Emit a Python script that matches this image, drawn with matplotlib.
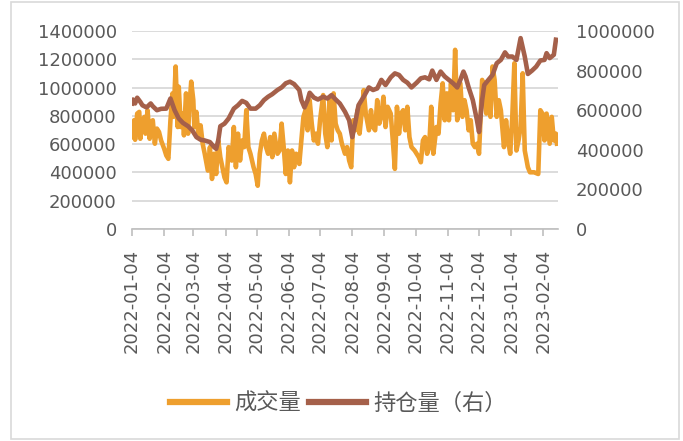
import matplotlib
matplotlib.use("Agg")
import matplotlib.pyplot as plt
import matplotlib.dates as mdates
from matplotlib.patches import Rectangle
import pandas as pd

start_date = "2022-01-04"
end_date = "2023-02-18"

# volume (成交量), days after start_date and values
vol_days = [0, 2, 3, 5, 7, 8, 10, 12, 13, 15, 17, 18, 20, 22, 24, 26, 28, 31, 33, 35,
            37, 39, 40, 42, 44, 45, 47, 49, 50, 52, 54, 55, 57, 59, 60, 62, 64, 66, 68, 70,
            73, 75, 77, 79, 81, 83, 85, 87, 89, 91, 93, 96, 98, 100, 102, 104, 106, 108, 110, 112,
            114, 117, 119, 121, 123, 125, 127, 129, 131, 133, 135, 137, 140, 142, 144, 146, 148, 150, 152, 154,
            156, 158, 161, 163, 165, 167, 169, 171, 173, 175, 177, 179, 181, 184, 186, 188, 190, 192, 194, 196,
            198, 200, 202, 205, 207, 209, 211, 213, 215, 217, 219, 221, 223, 225, 228, 230, 232, 234, 236, 238,
            240, 242, 244, 246, 249, 251, 253, 255, 257, 259, 261, 263, 265, 267, 269, 272, 274, 276, 278, 280,
            282, 284, 286, 288, 290, 293, 295, 297, 299, 301, 303, 305, 307, 309, 311, 313, 316, 318, 320, 322,
            324, 326, 328, 330, 332, 334, 337, 339, 341, 343, 345, 347, 349, 351, 353, 355, 358, 360, 362, 364,
            366, 368, 370, 372, 374, 376, 378, 381, 383, 387, 391, 393, 395, 397, 399, 402, 404, 406, 408, 409]
vol_vals = [650, 769, 631, 816, 828, 638, 769, 793, 674, 840, 638, 745, 769, 603, 710, 686, 626, 567, 520, 496,
            769, 959, 793, 1149, 721, 1006, 721, 816, 662, 959, 674, 840, 1042, 911, 721, 828, 650, 733, 603, 532,
            413, 579, 354, 532, 389, 626, 508, 437, 365, 330, 579, 484, 721, 437, 674, 484, 626, 579, 840, 579,
            532, 437, 389, 306, 532, 626, 674, 579, 532, 650, 508, 674, 532, 555, 745, 579, 389, 555, 330, 555,
            437, 532, 460, 626, 793, 840, 698, 911, 745, 626, 674, 603, 769, 947, 674, 579, 911, 626, 959, 745,
            698, 674, 603, 532, 579, 484, 437, 769, 698, 840, 674, 816, 982, 816, 698, 840, 721, 698, 911, 745,
            804, 935, 721, 864, 816, 626, 425, 864, 674, 816, 840, 698, 864, 650, 579, 555, 532, 508, 472, 626,
            650, 532, 579, 864, 532, 721, 674, 887, 1030, 769, 959, 769, 1030, 840, 1267, 769, 1030, 793, 911, 840,
            698, 769, 603, 579, 603, 532, 1054, 1006, 816, 1030, 793, 1149, 1054, 793, 911, 840, 579, 769, 626, 532,
            793, 1172, 555, 626, 721, 1101, 555, 437, 401, 401, 389, 840, 816, 626, 816, 603, 793, 626, 674, 603]
vol_vals = [v * 1000 for v in vol_vals]

# open interest (持仓量, right axis)
oi_days = [0, 1, 3, 5, 8, 10, 14, 18, 20, 24, 28, 33, 37, 41, 45, 49, 54, 58, 62, 66,
           70, 75, 79, 81, 83, 85, 89, 93, 98, 102, 106, 110, 114, 119, 123, 127, 131, 135, 140, 144,
           148, 152, 156, 161, 163, 166, 169, 171, 175, 179, 184, 188, 192, 196, 200, 205, 209, 212, 215, 218,
           223, 228, 232, 236, 240, 244, 249, 253, 257, 261, 265, 269, 274, 278, 282, 286, 289, 293, 297, 301,
           305, 309, 313, 316, 319, 321, 324, 328, 332, 334, 337, 339, 343, 347, 351, 355, 359, 362, 366, 370,
           374, 378, 381, 385, 389, 393, 397, 399, 402, 406, 408]
oi_vals = [634, 654, 634, 663, 642, 625, 614, 634, 620, 600, 607, 608, 659, 600, 558, 536, 519, 498, 464, 451,
           447, 439, 414, 405, 447, 519, 532, 558, 608, 625, 647, 637, 608, 608, 625, 651, 668, 681, 702, 715,
           736, 744, 732, 702, 651, 614, 651, 688, 664, 654, 668, 659, 676, 654, 634, 592, 549, 464, 541, 625,
           668, 715, 702, 710, 753, 727, 766, 786, 778, 753, 739, 715, 739, 761, 766, 756, 800, 753, 795, 770,
           753, 736, 715, 753, 795, 770, 715, 651, 549, 490, 651, 727, 753, 778, 837, 854, 892, 871, 871, 854,
           964, 871, 783, 800, 820, 851, 854, 888, 863, 880, 956]
oi_vals = [v * 1000 for v in oi_vals]

left_ticks = [0, 200000, 400000, 600000, 800000, 1000000, 1200000, 1400000]
right_ticks = [0, 200000, 400000, 600000, 800000, 1000000]
label_vol = "成交量"
label_oi = "持仓量（右）"

ORANGE = "#EE9F2E"
BROWN = "#A5604A"
GRAY_TXT = "#595959"

plt.rcParams['font.family'] = ['DejaVu Sans', 'Noto Sans CJK SC']

start = pd.Timestamp(start_date)
vol_dates = start + pd.to_timedelta(vol_days, unit="D")
oi_dates = start + pd.to_timedelta(oi_days, unit="D")
tick_dates = pd.date_range(start_date, periods=14, freq=pd.DateOffset(months=1))

fig = plt.figure(figsize=(6.83, 4.41), dpi=100)
ax1 = fig.add_axes([132/683, 1-229/441, (558-132)/683, (229-31)/441])
ax2 = ax1.twinx()

ax1.plot(vol_dates, vol_vals, color=ORANGE, lw=3.3, solid_joinstyle='round', label=label_vol, zorder=3)
ax2.plot(oi_dates, oi_vals, color=BROWN, lw=3.3, solid_joinstyle='round', label=label_oi, zorder=3)

ax1.set_xlim(start, pd.Timestamp(end_date))
ax1.set_ylim(0, 1400000)
ax2.set_ylim(0, 1000000)
ax1.set_yticks(left_ticks)
ax2.set_yticks(right_ticks)
ax1.set_yticklabels([str(t) for t in left_ticks])
ax2.set_yticklabels([str(t) for t in right_ticks])
ax1.set_xticks(tick_dates)
ax1.xaxis.set_major_formatter(mdates.DateFormatter('%Y-%m-%d'))

for ax in (ax1, ax2):
    for s in ax.spines.values():
        s.set_visible(False)
ax1.spines['bottom'].set_visible(True)
ax1.spines['bottom'].set_color('#BFBFBF')
ax1.spines['bottom'].set_linewidth(1.2)

ax1.grid(axis='y', color='#D9D9D9', lw=1.3)
ax1.set_axisbelow(True)
ax1.tick_params(axis='y', length=0, pad=11, labelsize=13, labelcolor=GRAY_TXT)
ax2.tick_params(axis='y', length=0, pad=13, labelsize=13, labelcolor=GRAY_TXT)
ax1.tick_params(axis='x', length=5, width=1.2, color='#BFBFBF', pad=9,
                labelsize=13, labelcolor=GRAY_TXT, labelrotation=90)

h1, l1 = ax1.get_legend_handles_labels()
h2, l2 = ax2.get_legend_handles_labels()
leg = fig.legend(h1 + h2, l1 + l2, loc='center', bbox_to_anchor=(338/683, 1-403/441),
                 ncol=2, frameon=False, handlelength=2.6, columnspacing=0.35, handletextpad=0.3,
                 prop={'family': ['Noto Sans CJK SC'], 'size': 16})
for t in leg.get_texts():
    t.set_color(GRAY_TXT)
for line in leg.get_lines():
    line.set_linewidth(4.5)

fig.patches.append(Rectangle((11/683, 2/441), (679-11)/683, (439-2)/441, transform=fig.transFigure,
                             fill=False, edgecolor='#D9D9D9', lw=1.2))

fig.savefig("out.png", dpi=100)
